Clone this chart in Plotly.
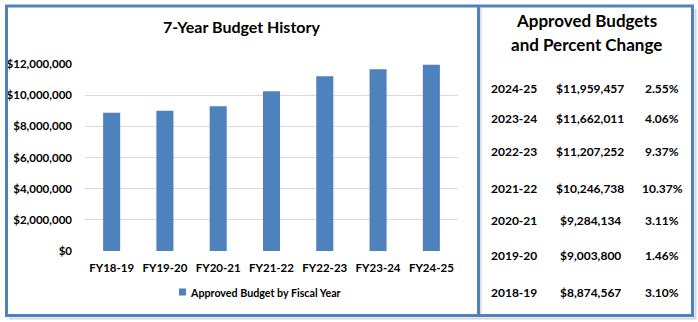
import plotly.graph_objects as go

W, H = 698, 322

categories = ["FY18-19", "FY19-20", "FY20-21", "FY21-22", "FY22-23", "FY23-24", "FY24-25"]
budgets = [8874567, 9003800, 9284134, 10246738, 11207252, 11662011, 11959457]
y_ticks = [0, 2000000, 4000000, 6000000, 8000000, 10000000, 12000000]

table_years = ["2024-25", "2023-24", "2022-23", "2021-22", "2020-21", "2019-20", "2018-19"]
table_amounts = ["$11,959,457", "$11,662,011", "$11,207,252", "$10,246,738", "$9,284,134", "$9,003,800", "$8,874,567"]
table_pcts = ["2.55%", "4.06%", "9.37%", "10.37%", "3.11%", "1.46%", "3.10%"]
row_y_px = [88, 118, 151, 188, 220, 256, 292]

legend_label = "Approved Budget by Fiscal Year"

BLUE = "#4f81bd"
FONT = "Lato"

def px(x):
    return x / W

def py(y):
    return 1 - y / H

fig = go.Figure()
fig.add_trace(go.Bar(
    x=categories, y=budgets, marker_color=BLUE, marker_line_width=0,
    name=legend_label, showlegend=False,
))

shapes = []
# shadow (bottom and right)
shapes.append(dict(type="line", xref="paper", yref="paper",
                   x0=px(9), x1=px(696), y0=py(318.5), y1=py(318.5),
                   line=dict(color="#d6d6d6", width=2)))
shapes.append(dict(type="line", xref="paper", yref="paper",
                   x0=px(695.5), x1=px(695.5), y0=py(9), y1=py(319),
                   line=dict(color="#d6d6d6", width=2)))
shapes.append(dict(type="line", xref="paper", yref="paper",
                   x0=px(481), x1=px(481), y0=py(8), y1=py(314),
                   line=dict(color="#e4e4e4", width=2)))
# borders
shapes.append(dict(type="rect", xref="paper", yref="paper",
                   x0=px(6.5), y0=py(6), x1=px(692.5), y1=py(315.5),
                   line=dict(color=BLUE, width=3)))
shapes.append(dict(type="line", xref="paper", yref="paper",
                   x0=px(478.5), x1=px(478.5), y0=py(6), y1=py(315.5),
                   line=dict(color=BLUE, width=3)))
# legend swatch
shapes.append(dict(type="rect", xref="paper", yref="paper",
                   x0=px(179), x1=px(186), y0=py(295.5), y1=py(288.5),
                   line=dict(width=0), fillcolor=BLUE))

def ann(text, x, y, size, xanchor="center"):
    return dict(text=text, xref="paper", yref="paper", x=px(x), y=py(y),
                xanchor=xanchor, yanchor="middle", showarrow=False,
                font=dict(family=FONT, size=size, color="#000000", weight="bold"))

annotations = []
annotations.append(ann("7-Year Budget History", 242, 27, 16))
annotations.append(ann("Approved Budgets", 586, 21, 17))
annotations.append(ann("and Percent Change", 586, 45, 17))
annotations.append(ann(legend_label, 188, 292, 10.7, xanchor="left"))
for yr, amt, pct, ry in zip(table_years, table_amounts, table_pcts, row_y_px):
    annotations.append(ann(yr, 514, ry, 12))
    annotations.append(ann(amt, 590, ry, 12))
    annotations.append(ann(pct, 662, ry, 12))

fig.update_layout(
    template="none",
    width=W, height=H,
    margin=dict(l=0, r=0, t=0, b=0, autoexpand=False),
    paper_bgcolor="white", plot_bgcolor="white",
    bargap=0.68,
    showlegend=False,
    xaxis=dict(domain=[px(85), px(458)], showgrid=False, showline=False, zeroline=False,
               automargin=False,
               tickfont=dict(family=FONT, size=11.5, color="#000000", weight="bold"),
               ticks="", ticklabelstandoff=8),
    yaxis=dict(domain=[py(251), py(64)], range=[0, 12000000], tickvals=y_ticks,
               automargin=False,
               tickformat="$,.0f", showgrid=True, gridcolor="#d9d9d9", gridwidth=1,
               zeroline=False, showline=False, ticks="",
               tickfont=dict(family=FONT, size=11.5, color="#000000", weight="bold"),
               ticklabelstandoff=12),
    shapes=shapes,
    annotations=annotations,
)

fig.write_html("out.html")
